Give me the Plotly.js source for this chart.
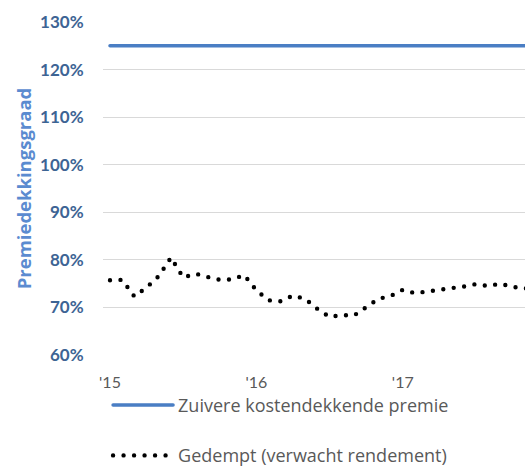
<!DOCTYPE html>
<html>
<head>
<meta charset="utf-8">
<script src="https://cdn.plot.ly/plotly-3.0.1.min.js"></script>
<style>
html,body{margin:0;padding:0;background:#fff;}
#chart{width:525px;height:466px;}
.scatterlayer .js-line, .legend .js-line { stroke-linecap: round !important; }
</style>
</head>
<body>
<div id="chart"></div>
<script>
// month index from Jan 2015
var months = [0,1,2,3,4,5,6,7,8,9,10,11,12,13,14,15,16,17,18,19,20,21,22,23,24,25,26,27,28,29,30,31,32,33,34,35];
var gedempt = [75.7,75.8,72.3,74.2,76.6,80.5,76.3,77.1,76.4,75.8,75.9,76.8,
               73.6,71.5,71.3,72.5,71.8,69.7,68.0,68.4,68.3,70.1,71.8,72.4,
               73.7,73.0,73.3,73.6,74.0,74.4,74.9,74.5,75.0,74.3,74.0,74.0];
var zuivere = months.map(function(){ return 125; });
var tickVals = [0,12,24];
var tickText = ["'15","'16","'17"];
var yTicks = [60,70,80,90,100,110,120,130];
var yTickText = ["60%","70%","80%","90%","100%","110%","120%","130%"];

var traces = [
  {x: months, y: zuivere, type:'scatter', mode:'lines', name:'Zuivere kostendekkende premie',
   line:{color:'#4a7ec4', width:3.5}, legendgroup:'a'},
  {x: months, y: gedempt, type:'scatter', mode:'lines', name:'Gedempt (verwacht rendement)',
   line:{color:'#000000', width:4.4, dash:'0px,10.5px'}, legendgroup:'b'}
];

var layout = {
  width:525, height:466,
  margin:{l:103, r:0, t:22, b:111},
  paper_bgcolor:'#ffffff', plot_bgcolor:'#ffffff',
  showlegend:true,
  legend:{x:0.012, xref:'paper', y:0.17, yref:'container', xanchor:'left', yanchor:'top', orientation:'v',
          font:{family:'Open Sans, sans-serif', size:18, color:'#595959'},
          tracegroupgap:24, itemwidth:60, bgcolor:'rgba(0,0,0,0)'},
  xaxis:{range:[-0.574, 34.02], tickvals:tickVals, ticktext:tickText, showgrid:false, automargin:false,
         zeroline:false, showline:false, ticks:'outside', ticklen:13, tickcolor:'rgba(0,0,0,0)',
         tickfont:{family:'Lato, sans-serif', size:16, color:'#595959'}},
  yaxis:{range:[60,130], tickvals:yTicks, ticktext:yTickText, showgrid:true, gridcolor:'#d9d9d9', gridwidth:1.2,
         zeroline:false, showline:false, ticks:'outside', ticklen:15, tickcolor:'rgba(0,0,0,0)', automargin:false,
         tickfont:{family:'Lato, sans-serif', size:17, color:'#3d6494', weight:'bold'},
         title:{text:'Premiedekkingsgraad', standoff:3,
                font:{family:'Open Sans, sans-serif', size:18.5, color:'#5b8bd0', weight:'bold'}}}
};

Plotly.newPlot('chart', traces, layout, {displayModeBar:false, staticPlot:true});
</script>
</body>
</html>
